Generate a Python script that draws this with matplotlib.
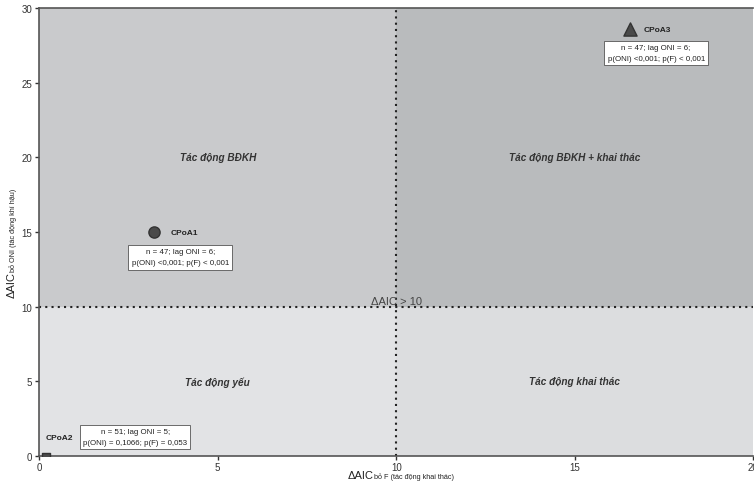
import matplotlib
matplotlib.use("Agg")
import matplotlib.pyplot as plt

plt.rcParams['font.family'] = ['Liberation Sans', 'DejaVu Sans']

# Data
sites = ["CPoA1", "CPoA2", "CPoA3"]
daic_f = [3.22, 0.2, 16.55]      # ΔAIC bỏ F
daic_oni = [15.0, -0.1, 28.6]    # ΔAIC bỏ ONI
markers = ["o", "s", "^"]
stats = [
    "n = 47; lag ONI = 6;\np(ONI) <0,001; p(F) < 0,001",
    "n = 51; lag ONI = 5;\np(ONI) = 0,1066; p(F) = 0,053",
    "n = 47; lag ONI = 6;\np(ONI) <0,001; p(F) < 0,001",
]
threshold = 10
quad_labels = ["Tác động BĐKH", "Tác động BĐKH + khai thác", "Tác động yếu", "Tác động khai thác"]
quad_pos = [(5, 20), (15, 20), (5, 5), (15, 5)]
quad_colors = ["#c9cacc", "#b9bbbd", "#e2e3e5", "#dcdddf"]

fig = plt.figure(figsize=(7.54, 4.85), dpi=100)
ax = fig.add_axes([0.052, 0.058, 0.947, 0.923])
ax.set_xlim(0, 20)
ax.set_ylim(0, 30)

# quadrant backgrounds
ax.axvspan(0, threshold, ymin=1/3, ymax=1, color=quad_colors[0], lw=0, zorder=0)
ax.axvspan(threshold, 20, ymin=1/3, ymax=1, color=quad_colors[1], lw=0, zorder=0)
ax.axvspan(0, threshold, ymin=0, ymax=1/3, color=quad_colors[2], lw=0, zorder=0)
ax.axvspan(threshold, 20, ymin=0, ymax=1/3, color=quad_colors[3], lw=0, zorder=0)

ax.axvline(threshold, color="#222222", ls=(0, (1, 2)), lw=1.5, zorder=1)
ax.axhline(threshold, color="#222222", ls=(0, (1, 2)), lw=1.5, zorder=1)
ax.text(threshold, threshold + 0.05, "ΔAIC > 10", ha="center", va="bottom",
        fontsize=8, color="#444444", zorder=2)

for lab, (qx, qy) in zip(quad_labels, quad_pos):
    ax.text(qx, qy, lab, ha="center", va="center", fontsize=7.2,
            style="italic", weight="bold", color="#333333")

# points
ax.scatter(daic_f[0], daic_oni[0], marker=markers[0], s=65, color="#4a4a4a",
           edgecolor="#333333", zorder=3)
ax.scatter(daic_f[1], daic_oni[1], marker=markers[1], s=40, color="#4a4a4a",
           edgecolor="#333333", zorder=3)
ax.scatter(daic_f[2], daic_oni[2], marker=markers[2], s=90, color="#4a4a4a",
           edgecolor="#333333", zorder=3)

ax.text(3.67, daic_oni[0], sites[0], fontsize=6, weight="bold",
        va="center", color="#222222")
ax.text(0.17, 1.2, sites[1], fontsize=6, weight="bold",
        va="center", color="#222222")
ax.text(16.92, daic_oni[2], sites[2], fontsize=6, weight="bold",
        va="center", color="#222222")

box = dict(boxstyle="square,pad=0.4", fc="white", ec="#555555", lw=0.6)
ax.text(3.95, 13.3, stats[0], fontsize=5.7, ha="center", va="center",
        linespacing=1.8, bbox=box, color="#222222")
ax.text(2.69, 1.27, stats[1], fontsize=5.7, ha="center", va="center",
        linespacing=1.8, bbox=box, color="#222222")
ax.text(17.28, 27.0, stats[2], fontsize=5.7, ha="center", va="center",
        linespacing=1.8, bbox=box, color="#222222")

ax.set_xticks([0, 5, 10, 15, 20])
ax.set_yticks([0, 5, 10, 15, 20, 25, 30])
ax.tick_params(labelsize=7, length=3, width=1, colors="#333333", pad=2)
ax.tick_params(axis="x", pad=1.5)
for sp in ["left", "bottom", "top"]:
    ax.spines[sp].set_color("#555555")
    ax.spines[sp].set_linewidth(1.2)
ax.spines["right"].set_visible(False)

# axis labels: main text + small subscript
xmain = fig.text(0.4615, 0.013, "ΔAIC", fontsize=8, ha="left", va="baseline",
                 color="#222222")
ax.annotate("bỏ F (tác động khai thác)", xy=(1, 0), xycoords=xmain,
            xytext=(0.3, 0), textcoords="offset points", fontsize=5.2,
            ha="left", va="bottom", color="#222222", annotation_clip=False)

ymain = fig.text(0.015, 0.385, "ΔAIC", fontsize=8, rotation=90, ha="center",
                 va="bottom", color="#222222")
ax.annotate("bỏ ONI (tác động khí hậu)", xy=(0.5, 1), xycoords=ymain,
            xytext=(1.5, 0.3), textcoords="offset points", fontsize=5.2,
            rotation=90, ha="center", va="bottom", color="#222222",
            annotation_clip=False)

fig.savefig("out.png", dpi=100)
